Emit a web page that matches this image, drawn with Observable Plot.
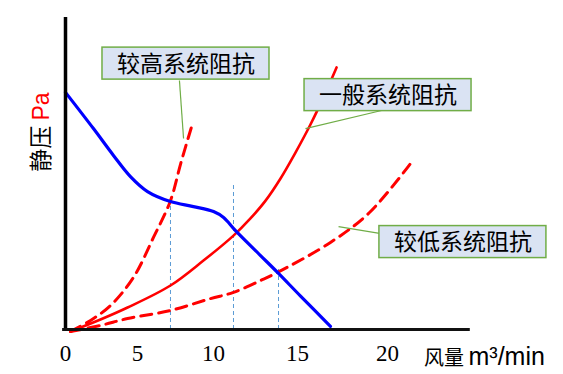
<!DOCTYPE html>
<html><head><meta charset="utf-8">
<script src="https://cdn.jsdelivr.net/npm/d3@7"></script>
<script src="https://cdn.jsdelivr.net/npm/@observablehq/plot@0.6"></script>
<style>
html,body{margin:0;padding:0;background:#fff;}
</style></head><body><div id="chart"></div>
<script>
// ---- data (flow in m3/min, static pressure in arbitrary Pa units) ----
const xTicks = [0, 5, 10, 15, 20];

const fanFlow = [0, 1.94, 3.33, 4.51, 5.66, 7.17, 8.68, 10, 10.6, 11.31, 12.8, 13.81, 15.17, 16.83];
const fanP    = [76, 64.4, 55.8, 49.0, 44.2, 41.0, 39.4, 37.8, 35.9, 31.7, 23.7, 18.3, 10.7, 1.0];

const midFlow = [0.35, 2.43, 4.31, 7.17, 9.34, 11.19, 12.2, 13.1, 13.99, 14.88, 15.72, 16.44, 17.17];
const midP    = [-0.64, 3.2, 7.05, 14.1, 22.1, 30.1, 35.6, 41.3, 48.4, 56.7, 65.7, 74.4, 84.0];

const highFlow = [0.35, 1.74, 3.13, 4.72, 6.05, 7.17, 7.86, 8.62];
const highP    = [-0.64, 2.9, 7.7, 16.7, 29.5, 41.3, 53.5, 66.0];

const lowFlow = [0.35, 2.43, 4.31, 7.17, 9.8, 11.19, 12.8, 13.81, 16.83, 19.0, 21.28];
const lowP    = [-0.64, 1.3, 3.5, 6.1, 9.9, 11.9, 15.7, 18.3, 27.9, 37.5, 53.2];

// operating points (drop lines)
const opFlow = [7.17, 11.19, 13.87];
const opTop  = [41.3, 46.8, 19.6];

// callouts
const calloutText = ["较高系统阻抗", "一般系统阻抗", "较低系统阻抗"];
const calloutX  = [8.19, 20.03, 24.19];
const calloutY  = [84.9, 74.8, 27.7];
const leaderX1 = [7.76, 19.67, 19.56];
const leaderY1 = [79.8, 70.2, 30.8];
const leaderX2 = [8.03, 15.44, 17.28];
const leaderY2 = [61.2, 64.4, 33.0];

const idx = a => d3.range(a.length);

const chart = Plot.plot({
  width: 563, height: 374,
  marginTop: 17, marginBottom: 45, marginLeft: 65, marginRight: 176,
  style: {fontFamily: "'Liberation Serif', serif", fontSize: "23px", color: "#000", background: "#fff"},
  x: {type: "linear", domain: xTicks, range: [65, 137, 213, 297, 387], axis: null},
  y: {domain: [0, 100], axis: null},
  marks: [
    Plot.axisX({ticks: xTicks, tickSize: 0, tickPadding: 15, tickFormat: d => String(d)}),
    Plot.ruleX(idx(opFlow), {x: i => opFlow[i], y1: 0, y2: i => opTop[i], stroke: "#5b9bd5", strokeWidth: 1, strokeDasharray: "4,3"}),
    Plot.line(idx(lowFlow), {x: i => lowFlow[i], y: i => lowP[i], stroke: "#ff0000", strokeWidth: 3, strokeDasharray: "11,7", curve: "catmull-rom"}),
    Plot.line(idx(highFlow), {x: i => highFlow[i], y: i => highP[i], stroke: "#ff0000", strokeWidth: 3, strokeDasharray: "11,7", curve: "catmull-rom"}),
    Plot.line(idx(midFlow), {x: i => midFlow[i], y: i => midP[i], stroke: "#ff0000", strokeWidth: 2.6, curve: "catmull-rom"}),
    Plot.line(idx(fanFlow), {x: i => fanFlow[i], y: i => fanP[i], stroke: "#0000ff", strokeWidth: 3.2, curve: "catmull-rom"}),
    Plot.ruleX([0], {stroke: "#000", strokeWidth: 3.5}),
    Plot.ruleY([0], {x1: -0.2, x2: 24.6, stroke: "#111", strokeWidth: 3}),
    Plot.link(idx(leaderX1), {x1: i => leaderX1[i], y1: i => leaderY1[i], x2: i => leaderX2[i], y2: i => leaderY2[i], stroke: "#70ad47", strokeWidth: 1.2}),
    Plot.text(idx(calloutText), {x: i => calloutX[i], y: i => calloutY[i], text: i => calloutText[i], fontFamily: "'Noto Sans CJK SC'", fontSize: 23, fill: "#000"})
  ]
});

document.getElementById("chart").appendChild(chart);

const svg = d3.select(chart);
const sx = chart.scale("x"), sy = chart.scale("y");

// boxes behind callout texts
const textGroup = chart.querySelector('g[aria-label="text"]');
const boxLayer = svg.insert("g", () => textGroup);
textGroup.querySelectorAll("text").forEach((node, i) => {
  const w = node.getComputedTextLength() + 29;
  const h = 32;
  const cx = sx.apply(calloutX[i]), cy = sy.apply(calloutY[i]) - 1;
  boxLayer.append("rect")
    .attr("x", cx - w / 2).attr("y", cy - h / 2)
    .attr("width", w).attr("height", h)
    .attr("fill", "#dae3f3").attr("stroke", "#70ad47").attr("stroke-width", 1.5);
});

// y axis label
const yl = svg.append("text")
  .attr("transform", "translate(49,132) rotate(-90)")
  .attr("text-anchor", "middle");
yl.append("tspan").attr("font-family", "'Noto Sans CJK SC'").attr("font-size", 23).attr("fill", "#000").text("静压 ");
yl.append("tspan").attr("font-family", "'Liberation Sans'").attr("font-size", 23).attr("fill", "#ff0000").text("Pa");

// x axis label
const xl = svg.append("text").attr("x", 424).attr("y", 365).attr("text-anchor", "start");
xl.append("tspan").attr("font-family", "'Noto Sans CJK SC'").attr("font-size", 20).attr("fill", "#000").text("风量 ");
xl.append("tspan").attr("font-family", "'Liberation Sans'").attr("font-size", 25).attr("fill", "#000").text("m³/min");
</script>
</body></html>
